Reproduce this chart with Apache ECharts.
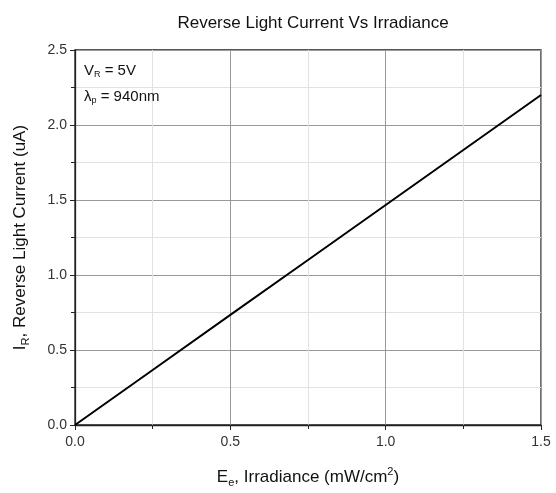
<!DOCTYPE html>
<html>
<head>
<meta charset="utf-8">
<script src="https://cdn.jsdelivr.net/npm/echarts@6/dist/echarts.min.js"></script>
<style>html,body{margin:0;padding:0;background:#fff}#c{width:556px;height:493px}</style>
</head>
<body>
<div id="c"></div>
<script>
const irradiance = [0, 0.25, 0.5, 0.75, 1.0, 1.25, 1.5];
const current = [0, 0.367, 0.734, 1.1, 1.467, 1.833, 2.2];
const xTicks = [0, 0.5, 1.0, 1.5];
const yTicks = [0, 0.5, 1.0, 1.5, 2.0, 2.5];

const chart = echarts.init(document.getElementById('c'), null, {renderer: 'canvas'});
const font = 'Liberation Sans, Arial, sans-serif';
const sub = {fontSize: 11, fontFamily: font, color: '#111', verticalAlign: 'bottom', lineHeight: 12};
const sup = {fontSize: 11, fontFamily: font, color: '#111', verticalAlign: 'top', lineHeight: 12};
const main = {fontSize: 17, fontFamily: font, color: '#111', lineHeight: 22};

chart.setOption({
  animation: false,
  title: {
    text: 'Reverse Light Current Vs Irradiance',
    left: 308, top: 10, textAlign: 'center',
    textStyle: {fontSize: 17, fontWeight: 'normal', fontFamily: font, color: '#111'}
  },
  grid: {left: 75, right: 15, top: 50, bottom: 61, show: true, borderColor: '#222', borderWidth: 1.3},
  xAxis: {
    type: 'value', min: 0, max: 1.5, interval: 0.5,
    name: '{m|E}{s|e}{m|, Irradiance (mW/cm}{p|2}{m|)}',
    nameLocation: 'middle', nameGap: 41,
    nameTextStyle: {rich: {m: main, s: sub, p: sup}},
    axisLine: {lineStyle: {color: '#222', width: 1.3}},
    axisTick: {length: 5, lineStyle: {color: '#222'}},
    minorTick: {show: true, splitNumber: 2, length: 4, lineStyle: {color: '#222'}},
    axisLabel: {fontSize: 14, fontFamily: font, color: '#333', formatter: v => v.toFixed(1), margin: 10},
    splitLine: {show: true, lineStyle: {color: '#999', width: 1}},
    minorSplitLine: {show: true, lineStyle: {color: '#e2e2e2', width: 1}}
  },
  yAxis: {
    type: 'value', min: 0, max: 2.5, interval: 0.5,
    name: '{m|I}{s|R}{m|, Reverse Light Current (uA)}',
    nameLocation: 'middle', nameGap: 44,
    nameTextStyle: {rich: {m: main, s: sub}},
    axisLine: {show: true, lineStyle: {color: '#222', width: 1.3}},
    axisTick: {show: true, length: 5, lineStyle: {color: '#222'}},
    minorTick: {show: true, splitNumber: 2, length: 4, lineStyle: {color: '#222'}},
    axisLabel: {fontSize: 14, fontFamily: font, color: '#333', formatter: v => v.toFixed(1), margin: 8},
    splitLine: {show: true, lineStyle: {color: '#999', width: 1}},
    minorSplitLine: {show: true, lineStyle: {color: '#e2e2e2', width: 1}}
  },
  graphic: [
    {type: 'text', left: 84, top: 63, z: 100, style: {
      text: '{m|V}{s|R}{m| = 5V}',
      rich: {
        m: {fontSize: 15, fontFamily: font, fill: '#111', lineHeight: 18},
        s: {fontSize: 9, fontFamily: font, fill: '#111', lineHeight: 10, verticalAlign: 'bottom'}
      }
    }},
    {type: 'text', left: 84, top: 89, z: 100, style: {
      text: '{m|λ}{s|p}{m| = 940nm}',
      rich: {
        m: {fontSize: 15, fontFamily: font, fill: '#111', lineHeight: 18},
        s: {fontSize: 9, fontFamily: font, fill: '#111', lineHeight: 10, verticalAlign: 'bottom'}
      }
    }}
  ],
  series: [{
    type: 'line', data: irradiance.map((x, i) => [x, current[i]]),
    showSymbol: false, lineStyle: {color: '#000', width: 2}
  }]
});
</script>
</body>
</html>
